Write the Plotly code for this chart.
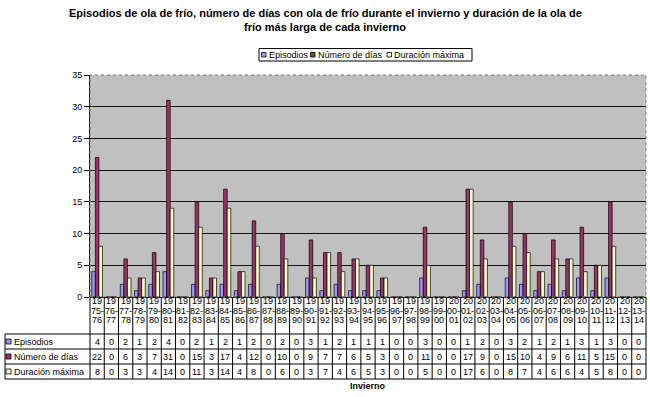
import plotly.graph_objects as go

# ---------------- data ----------------
winters = ["1975-76", "1976-77", "1977-78", "1978-79", "1979-80", "1980-81", "1981-82",
           "1982-83", "1983-84", "1984-85", "1985-86", "1986-87", "1987-88", "1988-89",
           "1989-90", "1990-91", "1991-92", "1992-93", "1993-94", "1994-95", "1995-96",
           "1996-97", "1997-98", "1998-99", "1999-00", "2000-01", "2001-02", "2002-03",
           "2003-04", "2004-05", "2005-06", "2006-07", "2007-08", "2008-09", "2009-10",
           "2010-11", "2011-12", "2012-13", "2013-14"]
episodios = [4, 0, 2, 1, 2, 4, 0, 2, 1, 2, 1, 2, 0, 2, 0, 3, 1, 2, 1, 1, 1, 0, 0, 3, 0, 0,
             1, 2, 0, 3, 2, 1, 2, 1, 3, 1, 3, 0, 0]
num_dias = [22, 0, 6, 3, 7, 31, 0, 15, 3, 17, 4, 12, 0, 10, 0, 9, 7, 7, 6, 5, 3, 0, 0, 11,
            0, 0, 17, 9, 0, 15, 10, 4, 9, 6, 11, 5, 15, 0, 0]
duracion = [8, 0, 3, 3, 4, 14, 0, 11, 3, 14, 4, 8, 0, 6, 0, 3, 7, 4, 6, 5, 3, 0, 0, 5, 0, 0,
            17, 6, 0, 8, 7, 4, 6, 6, 4, 5, 8, 0, 0]
series_names = ["Episodios", "Número de días", "Duración máxima"]
series_values = [episodios, num_dias, duracion]
series_colors = ["#9999FF", "#993366", "#FFFFCC"]
y_ticks = [0, 5, 10, 15, 20, 25, 30, 35]
title_lines = ["Episodios de ola de frío, número de días con ola de frío durante el invierno y duración de la ola de",
               "frío más larga de cada invierno"]
x_title = "Invierno"

# ---------------- geometry ----------------
W, H = 650, 397
L, R, T, B = 90, 4, 75, 100
PW = W - L - R
PH = H - T - B
n = len(winters)
FONT = "Liberation Sans, Arial, sans-serif"


def px2x(X):
    return (X - L) / PW


def px2y(Y):
    return (H - B - Y) / PH


fig = go.Figure()
xs = list(range(n))
for name, vals, col in zip(series_names, series_values, series_colors):
    fig.add_trace(go.Bar(x=xs, y=vals, name=name, showlegend=False,
                         marker=dict(color=col, line=dict(color="black", width=0.7))))

shapes = []
annotations = []

# plot area dotted border
shapes.append(dict(type="rect", xref="paper", yref="paper", x0=0, x1=1, y0=0, y1=1,
                   line=dict(color="#808080", width=1, dash="dot"), layer="above"))

# table grid
y_top = H - B
header_bottom = 334
row_h = 15
row_lines = [header_bottom + k * row_h for k in range(4)]
table_bottom = row_lines[-1]
for i in range(n + 1):
    shapes.append(dict(type="line", xref="paper", yref="paper", x0=i / n, x1=i / n,
                       y0=px2y(y_top), y1=px2y(table_bottom),
                       line=dict(color="black", width=1)))
for Y in row_lines:
    shapes.append(dict(type="line", xref="paper", yref="paper", x0=px2x(5), x1=1,
                       y0=px2y(Y), y1=px2y(Y), line=dict(color="black", width=1)))
shapes.append(dict(type="line", xref="paper", yref="paper", x0=px2x(5), x1=px2x(5),
                   y0=px2y(header_bottom), y1=px2y(table_bottom),
                   line=dict(color="black", width=1)))

# header labels
header_y = [301, 310.5, 320]
for i, w in enumerate(winters):
    parts = [w[:2], w[2:5], w[5:]]
    for p, Y in zip(parts, header_y):
        annotations.append(dict(x=i, xref="x", y=px2y(Y), yref="paper", text=p,
                                showarrow=False, xanchor="center", yanchor="middle",
                                font=dict(size=9, color="black", family=FONT)))

# rows
for k, (name, vals, col) in enumerate(zip(series_names, series_values, series_colors)):
    cy = row_lines[k] + row_h / 2
    shapes.append(dict(type="rect", xref="paper", yref="paper",
                       x0=px2x(6), x1=px2x(11), y0=px2y(cy - 2.5), y1=px2y(cy + 2.5),
                       fillcolor=col, line=dict(color="black", width=0.8)))
    annotations.append(dict(x=px2x(12), xref="paper", y=px2y(cy), yref="paper", text=name,
                            showarrow=False, xanchor="left", yanchor="middle",
                            font=dict(size=9, color="black", family=FONT)))
    for i, v in enumerate(vals):
        annotations.append(dict(x=i, xref="x", y=px2y(cy), yref="paper", text=str(v),
                                showarrow=False, xanchor="center", yanchor="middle",
                                font=dict(size=9, color="black", family=FONT)))

# axis title
annotations.append(dict(x=0.5, xref="paper", y=px2y(386), yref="paper", text="<b>" + x_title + "</b>",
                        showarrow=False, xanchor="center", yanchor="middle",
                        font=dict(size=9, color="black", family=FONT)))

# title
for line, Y in zip(title_lines, [12.5, 27]):
    annotations.append(dict(x=px2x(W / 2), xref="paper", y=px2y(Y), yref="paper",
                            text="<b>" + line + "</b>", showarrow=False,
                            xanchor="center", yanchor="middle",
                            font=dict(size=11, color="black", family=FONT)))

# manual legend
shapes.append(dict(type="rect", xref="paper", yref="paper", x0=px2x(259), x1=px2x(472),
                   y0=px2y(48.5), y1=px2y(61), line=dict(color="black", width=1),
                   fillcolor="white"))
leg_sq = [261.5, 310.5, 387]
for name, col, sx in zip(series_names, series_colors, leg_sq):
    shapes.append(dict(type="rect", xref="paper", yref="paper", x0=px2x(sx), x1=px2x(sx + 4.5),
                       y0=px2y(57), y1=px2y(52.5), fillcolor=col,
                       line=dict(color="black", width=0.8)))
    annotations.append(dict(x=px2x(sx + 5), xref="paper", y=px2y(54.8), yref="paper",
                            text=name, showarrow=False, xanchor="left", yanchor="middle",
                            font=dict(size=9, color="black", family=FONT)))

fig.update_layout(
    width=W, height=H,
    margin=dict(l=L, r=R, t=T, b=B, pad=0),
    paper_bgcolor="white", plot_bgcolor="#C0C0C0",
    font=dict(family=FONT, color="black", size=9),
    barmode="group", bargap=0.25, bargroupgap=0,
    xaxis=dict(range=[-0.5, n - 0.5], showticklabels=False, showgrid=False,
               zeroline=False, showline=False, ticks=""),
    yaxis=dict(range=[0, 35], tickvals=y_ticks, showgrid=True, gridcolor="#111111",
               gridwidth=1, showline=True, linecolor="black", linewidth=1,
               ticks="outside", ticklen=5, tickcolor="black",
               tickfont=dict(size=9, color="black", family=FONT),
               zeroline=True, zerolinecolor="black", zerolinewidth=1),
    shapes=shapes, annotations=annotations,
)

fig.write_html("out.html", config={"displayModeBar": False},
               post_script="document.body.style.margin='0';document.body.style.padding='0';")
